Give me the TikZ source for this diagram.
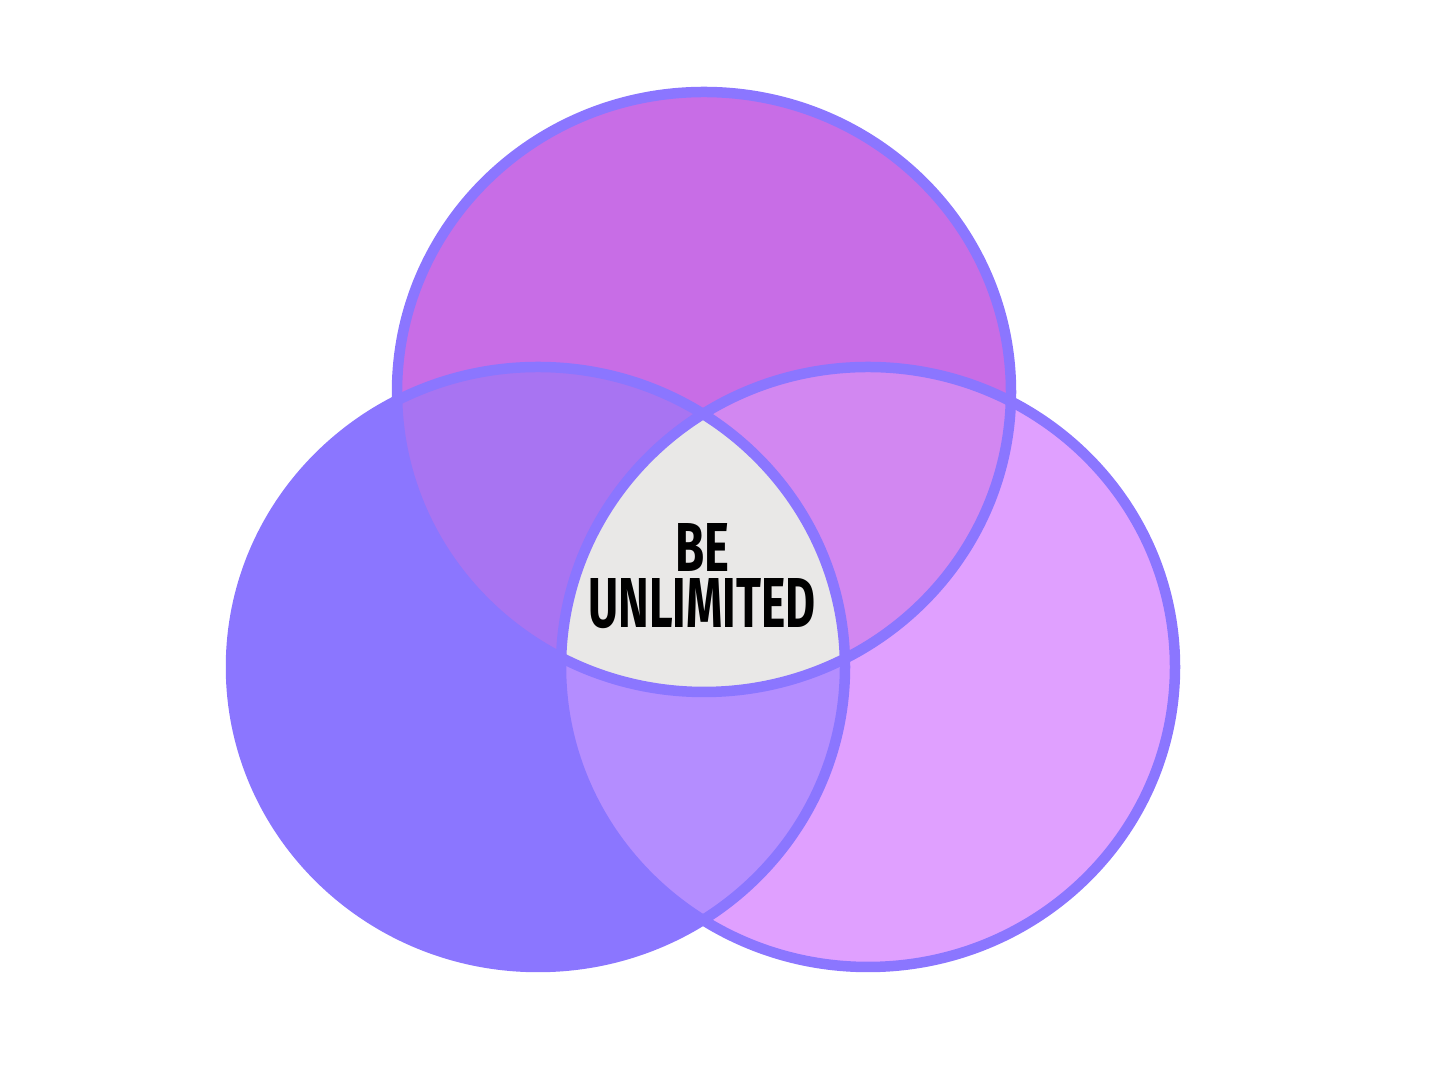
\documentclass[tikz,border=0pt]{standalone}
\usepackage{fontspec}
\setmainfont{Fira Sans}
\usepackage{graphicx}
\definecolor{cTop}{HTML}{C86DE6}
\definecolor{cLeft}{HTML}{8B76FF}
\definecolor{cRight}{HTML}{E0A0FF}
\definecolor{cTL}{HTML}{A874F2}
\definecolor{cTR}{HTML}{D287F1}
\definecolor{cLR}{HTML}{B48DFF}
\definecolor{cMid}{HTML}{E9E8E7}
\definecolor{cLine}{HTML}{8B76FF}
\begin{document}
\begin{tikzpicture}
\useasboundingbox (0,0) rectangle (14.4,10.8);
\def\rx{3.07}\def\ry{3.00}
\coordinate (T) at (7.04,6.88);
\coordinate (L) at (5.38,4.13);
\coordinate (R) at (8.68,4.13);
\tikzset{ring/.style={draw=cLine,line width=0.105cm}}
% base fills
\fill[cTop] (T) ellipse [x radius=\rx,y radius=\ry];
\fill[cLeft] (L) ellipse [x radius=\rx,y radius=\ry];
\fill[cRight] (R) ellipse [x radius=\rx,y radius=\ry];
% pairwise overlaps
\begin{scope}
\clip (T) ellipse [x radius=\rx,y radius=\ry];
\fill[cTL] (L) ellipse [x radius=\rx,y radius=\ry];
\end{scope}
\begin{scope}
\clip (T) ellipse [x radius=\rx,y radius=\ry];
\fill[cTR] (R) ellipse [x radius=\rx,y radius=\ry];
\end{scope}
\begin{scope}
\clip (L) ellipse [x radius=\rx,y radius=\ry];
\fill[cLR] (R) ellipse [x radius=\rx,y radius=\ry];
\end{scope}
% centre
\begin{scope}
\clip (T) ellipse [x radius=\rx,y radius=\ry];
\clip (L) ellipse [x radius=\rx,y radius=\ry];
\fill[cMid] (R) ellipse [x radius=\rx,y radius=\ry];
\end{scope}
% outlines
\draw[ring] (T) ellipse [x radius=\rx,y radius=\ry];
\draw[ring] (L) ellipse [x radius=\rx,y radius=\ry];
\draw[ring] (R) ellipse [x radius=\rx,y radius=\ry];
% text
\node[inner sep=0pt, align=center, font=\fontsize{10pt}{0.56cm}\selectfont\bfseries] (title) at (7.02,5.04)
  {\resizebox{0.54cm}{0.48cm}{BE}\\\resizebox{2.27cm}{0.49cm}{UNLIMITED}};
\end{tikzpicture}
\end{document}
